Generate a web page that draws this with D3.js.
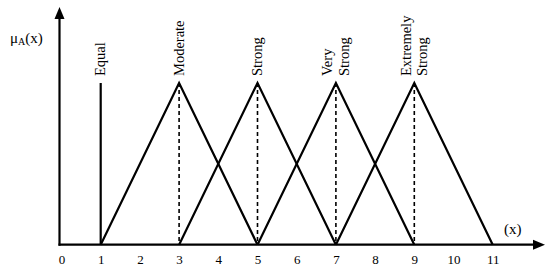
<!DOCTYPE html>
<html><head><meta charset="utf-8">
<script src="https://cdn.jsdelivr.net/npm/d3@7"></script>
<style>body{margin:0;background:#fff}svg{display:block}text{font-family:"Liberation Serif","Times New Roman",serif;fill:#000}</style>
</head><body>
<script>
// data
const tickLabels = [0,1,2,3,4,5,6,7,8,9,10,11];
const equalPoint = 1;
const triangleLeft = [1,3,5,7];
const trianglePeak = [3,5,7,9];
const triangleRight = [5,7,9,11];
const peakLabels = [["Equal"],["Moderate"],["Strong"],["Very","Strong"],["Extremely","Strong"]];
const peakLabelX = [1,3,5,7,9];

const W=550,H=277;
const svg=d3.select("body").append("svg").attr("width",W).attr("height",H);
const x=d3.scaleLinear().domain([0,11]).range([61.5,492.7]);
const y=d3.scaleLinear().domain([0,1]).range([244.7,83]);
const axX=59.5, axY=244.7;

// axes
svg.append("line").attr("x1",axX).attr("x2",axX).attr("y1",axY+1).attr("y2",16).attr("stroke","#000").attr("stroke-width",2.2);
svg.append("path").attr("d",`M${axX-5},19L${axX},7L${axX+5},19Z`).attr("fill","#000");
svg.append("line").attr("x1",axX-1).attr("x2",536).attr("y1",axY).attr("y2",axY).attr("stroke","#000").attr("stroke-width",2.2);
svg.append("path").attr("d",`M533,${axY-5}L545,${axY}L533,${axY+5}Z`).attr("fill","#000");

// tick labels
const xAxis=d3.axisBottom(x).tickValues(tickLabels).tickSize(0).tickPadding(0).tickFormat(d3.format("d"));
const g=svg.append("g").attr("transform",`translate(0,${axY+10})`).call(xAxis);
g.select(".domain").remove();
g.selectAll("text").attr("font-size",13).attr("fill","#000");

// equal line
svg.append("line").attr("x1",x(equalPoint)).attr("x2",x(equalPoint)).attr("y1",y(0)).attr("y2",y(1)).attr("stroke","#000").attr("stroke-width",2.2);

// triangles
triangleLeft.forEach((l,i)=>{
  const p=trianglePeak[i], r=triangleRight[i];
  svg.append("path").attr("d",d3.line()([[x(l),y(0)],[x(p),y(1)],[x(r),y(0)]]))
    .attr("fill","none").attr("stroke","#000").attr("stroke-width",2.2).attr("stroke-linejoin","miter");
  svg.append("line").attr("x1",x(p)).attr("x2",x(p)).attr("y1",y(1)).attr("y2",y(0))
    .attr("stroke","#000").attr("stroke-width",1.6).attr("stroke-dasharray","4,3");
});

// peak labels (rotated)
peakLabels.forEach((lines,i)=>{
  const cx=x(peakLabelX[i]);
  const n=lines.length;
  lines.forEach((t,j)=>{
    const off=(j-(n-1)/2)*16.5;
    svg.append("text").attr("transform",`translate(${cx+off+4.5},76) rotate(-90)`)
      .attr("font-size",14.5).attr("text-anchor","start").text(t);
  });
});

// axis titles
const mu=svg.append("text").attr("x",10).attr("y",43).attr("font-size",15);
mu.append("tspan").text("μ");
mu.append("tspan").attr("font-size",10).attr("dy",2).text("A");
mu.append("tspan").attr("dy",-2).text("(x)");
svg.append("text").attr("x",504).attr("y",234).attr("font-size",15).text("(x)");
</script>
</body></html>
